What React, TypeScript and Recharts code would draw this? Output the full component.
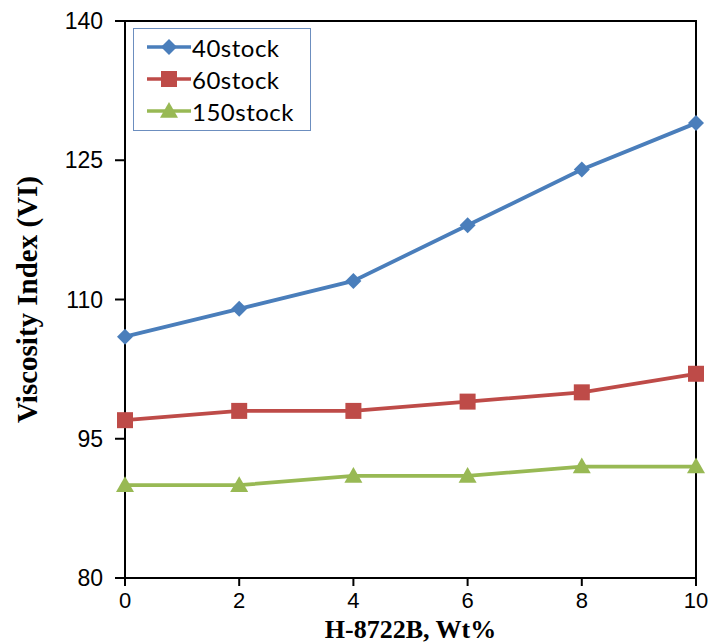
import React from "react";
import { LineChart, Line, XAxis, YAxis, ReferenceArea, Label } from "recharts";

const wt = [0, 2, 4, 6, 8, 10];
const stock40 = [106, 109, 112, 118, 124, 129];
const stock60 = [97, 98, 98, 99, 100, 102];
const stock150 = [90, 90, 91, 91, 92, 92];
const xTicks = [0, 2, 4, 6, 8, 10];
const yTicks = [80, 95, 110, 125, 140];

const series = [
  { key: "s40", name: "40stock", color: "#4A7EBB", shape: "diamond" },
  { key: "s60", name: "60stock", color: "#BE4B48", shape: "square" },
  { key: "s150", name: "150stock", color: "#98B954", shape: "triangle" },
];

const data = wt.map((w, i) => ({
  wt: w,
  s40: stock40[i],
  s60: stock60[i],
  s150: stock150[i],
}));

const tickFont = "'Liberation Sans', Arial, sans-serif";
const serif = "'Liberation Serif', 'Times New Roman', serif";

const Marker = ({ cx, cy, shape, color }: any) => {
  if (cx == null || cy == null) return null;
  if (shape === "diamond") {
    const r = 8;
    return <polygon points={`${cx},${cy - r} ${cx + r},${cy} ${cx},${cy + r} ${cx - r},${cy}`} fill={color} />;
  }
  if (shape === "square") {
    const r = 8;
    return <rect x={cx - r} y={cy - r} width={r * 2} height={r * 2} fill={color} />;
  }
  const r = 9;
  return <polygon points={`${cx},${cy - r} ${cx + r},${cy + r * 0.75} ${cx - r},${cy + r * 0.75}`} fill={color} />;
};

const YTitle = ({ viewBox }: any) => {
  const cy = viewBox.y + viewBox.height / 2;
  const cx = 27;
  return (
    <text
      x={cx}
      y={cy}
      transform={`rotate(-90 ${cx} ${cy})`}
      textAnchor="middle"
      dominantBaseline="central"
      fontFamily={serif}
      fontWeight="bold"
      fontSize={29}
      fill="#000"
    >
      Viscosity Index (VI)
    </text>
  );
};

const LegendBox = () => (
  <div
    style={{
      position: "absolute",
      left: 133,
      top: 28,
      width: 178,
      height: 103,
      boxSizing: "border-box",
      border: "1.5px solid #6C8EBF",
      background: "#fff",
      padding: "2px 0 0 13px",
      fontFamily: "Lato, 'Open Sans', sans-serif",
      fontSize: 24,
      letterSpacing: 0.5,
      color: "#000",
    }}
  >
    {series.map((s) => (
      <div key={s.key} style={{ display: "flex", alignItems: "center", height: 32 }}>
        <svg width={44} height={24} style={{ marginRight: 1 }}>
          <line x1={0} y1={12} x2={44} y2={12} stroke={s.color} strokeWidth={3.5} />
          <Marker cx={22} cy={12} shape={s.shape} color={s.color} />
        </svg>
        <span>{s.name}</span>
      </div>
    ))}
  </div>
);

export default function App() {
  return (
    <div style={{ position: "absolute", left: 0, top: 0, width: 712, height: 643 }}>
      <LineChart width={712} height={643} data={data} margin={{ top: 21, right: 16, bottom: 0, left: 0 }}>
        <XAxis
          dataKey="wt"
          type="number"
          domain={[0, 10]}
          ticks={xTicks}
          height={65}
          stroke="#000"
          strokeWidth={2}
          tickSize={8}
          tickMargin={6}
          fontSize={22}
          tick={{ fill: "#000", fontSize: 22, fontFamily: tickFont }}
        >
          <Label
            value="H-8722B, Wt%"
            position="insideBottom"
            offset={5}
            fontSize={26}
            style={{ fontFamily: serif, fontWeight: "bold", fontSize: 26, fill: "#000" }}
          />
        </XAxis>
        <YAxis
          type="number"
          domain={[80, 140]}
          ticks={yTicks}
          width={125}
          stroke="#000"
          strokeWidth={2}
          tickSize={10}
          tickMargin={12}
          fontSize={23}
          tick={{ fill: "#000", fontSize: 23, fontFamily: tickFont }}
        >
          <Label content={<YTitle />} />
        </YAxis>
        <ReferenceArea x1={0} x2={10} y1={80} y2={140} fill="none" stroke="#000" strokeWidth={2} ifOverflow="visible" />
        {series.map((s) => (
          <Line
            key={s.key}
            dataKey={s.key}
            name={s.name}
            stroke={s.color}
            strokeWidth={3.8}
            isAnimationActive={false}
            dot={(p: any) => <Marker key={`${s.key}-${p.index}`} cx={p.cx} cy={p.cy} shape={s.shape} color={s.color} />}
            activeDot={false}
          />
        ))}
      </LineChart>
      <LegendBox />
    </div>
  );
}
